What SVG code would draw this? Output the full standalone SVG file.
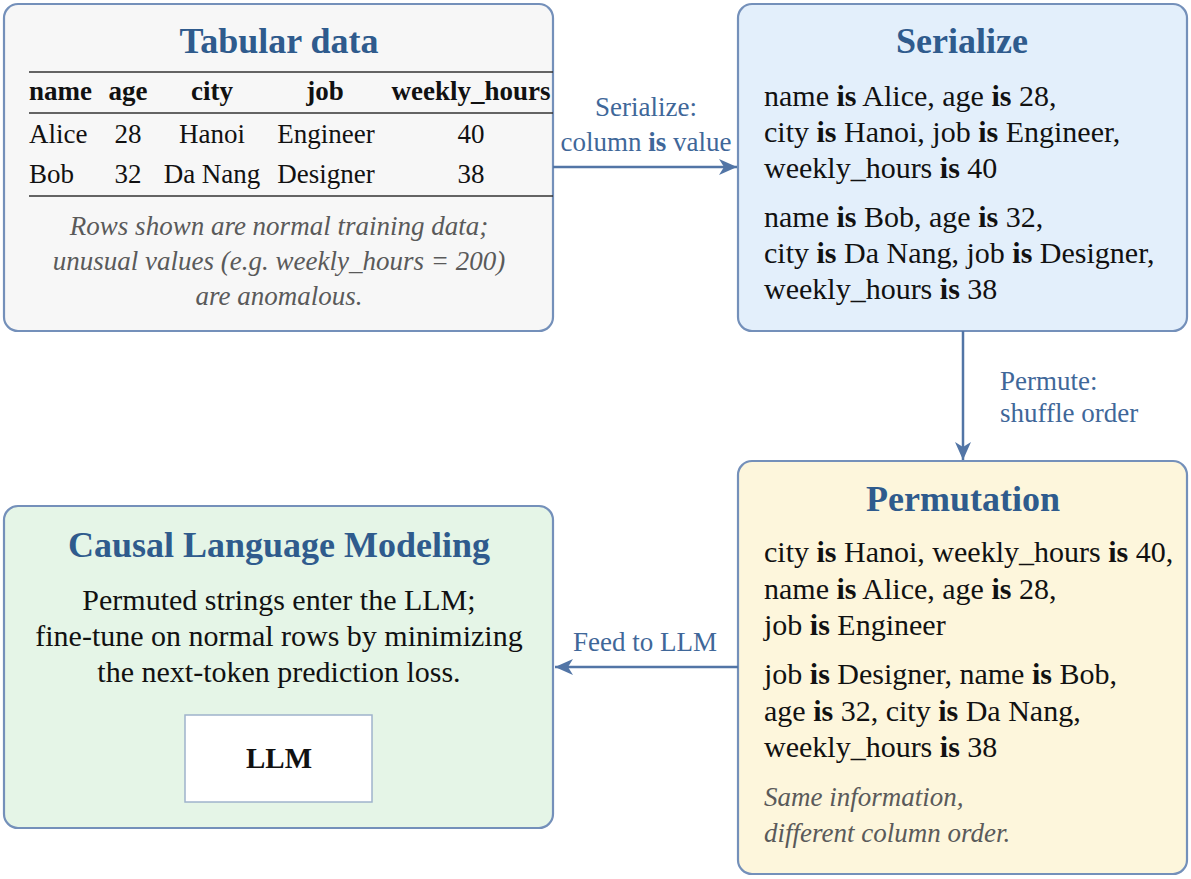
<svg xmlns="http://www.w3.org/2000/svg" width="1191" height="879" viewBox="0 0 1191 879">
<style>
.box{stroke:#7490ba;stroke-width:2.2}
.title{font-family:"Liberation Serif","Times New Roman",serif;font-weight:bold;font-size:36px;fill:#2f5b8d;text-anchor:middle}
.body{font-family:"Liberation Serif","Times New Roman",serif;font-size:30px;fill:#111}
.tbl{font-family:"Liberation Serif","Times New Roman",serif;font-size:27px;fill:#111}
.th{font-weight:bold}
.note{font-family:"Liberation Serif","Times New Roman",serif;font-style:italic;font-size:27px;fill:#5a5a5a}
.lbl{font-family:"Liberation Serif","Times New Roman",serif;font-size:27px;fill:#3f6799}
.b{font-weight:bold}
.rule{stroke:#333;stroke-width:1.4}
.conn{stroke:#5275a6;stroke-width:2.5;fill:none}
</style>
<defs>
<marker id="arr" markerUnits="userSpaceOnUse" markerWidth="20" markerHeight="18" refX="18" refY="9" orient="auto">
<path d="M0,1 L18,9 L0,17 L5,9 z" fill="#5275a6"/>
</marker>
</defs>

<g id="tabular">
<rect class="box" x="4" y="4" width="549" height="327" rx="14" fill="#f7f7f7"/>
<text class="title" x="279" y="53">Tabular data</text>
<line class="rule" x1="29" y1="72" x2="553" y2="72"/>
<line class="rule" x1="29" y1="113" x2="553" y2="113"/>
<line class="rule" x1="29" y1="196" x2="553" y2="196"/>
<g class="tbl th">
<text x="29" y="100">name</text>
<text x="128" y="100" text-anchor="middle">age</text>
<text x="212" y="100" text-anchor="middle">city</text>
<text x="325" y="100" text-anchor="middle">job</text>
<text x="471" y="100" text-anchor="middle">weekly_hours</text>
</g>
<g class="tbl">
<text x="29" y="143">Alice</text>
<text x="128" y="143" text-anchor="middle">28</text>
<text x="212" y="143" text-anchor="middle">Hanoi</text>
<text x="326" y="143" text-anchor="middle">Engineer</text>
<text x="471" y="143" text-anchor="middle">40</text>
<text x="29" y="183">Bob</text>
<text x="128" y="183" text-anchor="middle">32</text>
<text x="212" y="183" text-anchor="middle">Da Nang</text>
<text x="326" y="183" text-anchor="middle">Designer</text>
<text x="471" y="183" text-anchor="middle">38</text>
</g>
<g class="note" text-anchor="middle">
<text x="279" y="235">Rows shown are normal training data;</text>
<text x="279" y="270">unusual values (e.g. weekly_hours = 200)</text>
<text x="279" y="305">are anomalous.</text>
</g>
</g>

<g id="serialize">
<rect class="box" x="738" y="4" width="449" height="327" rx="14" fill="#e3effb"/>
<text class="title" x="962" y="53">Serialize</text>
<g class="body">
<text x="764" y="106">name <tspan class="b">is</tspan> Alice, age <tspan class="b">is</tspan> 28,</text>
<text x="764" y="142">city <tspan class="b">is</tspan> Hanoi, job <tspan class="b">is</tspan> Engineer,</text>
<text x="764" y="178">weekly_hours <tspan class="b">is</tspan> 40</text>
<text x="764" y="227">name <tspan class="b">is</tspan> Bob, age <tspan class="b">is</tspan> 32,</text>
<text x="764" y="263">city <tspan class="b">is</tspan> Da Nang, job <tspan class="b">is</tspan> Designer,</text>
<text x="764" y="299">weekly_hours <tspan class="b">is</tspan> 38</text>
</g>
</g>

<g id="permutation">
<rect class="box" x="738" y="461" width="449" height="413" rx="14" fill="#fdf6dc"/>
<text class="title" x="963" y="511">Permutation</text>
<g class="body">
<text x="764" y="562">city <tspan class="b">is</tspan> Hanoi, weekly_hours <tspan class="b">is</tspan> 40,</text>
<text x="764" y="599">name <tspan class="b">is</tspan> Alice, age <tspan class="b">is</tspan> 28,</text>
<text x="764" y="635">job <tspan class="b">is</tspan> Engineer</text>
<text x="764" y="684">job <tspan class="b">is</tspan> Designer, name <tspan class="b">is</tspan> Bob,</text>
<text x="764" y="721">age <tspan class="b">is</tspan> 32, city <tspan class="b">is</tspan> Da Nang,</text>
<text x="764" y="757">weekly_hours <tspan class="b">is</tspan> 38</text>
</g>
<g class="note">
<text x="764" y="806">Same information,</text>
<text x="764" y="842">different column order.</text>
</g>
</g>

<g id="clm">
<rect class="box" x="4" y="506" width="549" height="322" rx="14" fill="#e5f5e7"/>
<text class="title" x="279" y="557">Causal Language Modeling</text>
<g class="body" text-anchor="middle">
<text x="279" y="610">Permuted strings enter the LLM;</text>
<text x="279" y="646">fine-tune on normal rows by minimizing</text>
<text x="279" y="682">the next-token prediction loss.</text>
</g>
<g id="llm">
<rect x="185" y="715" width="187" height="87" fill="#ffffff" stroke="#9fb3cc" stroke-width="1.5"/>
<text x="279" y="768" font-family="Liberation Serif, Times New Roman, serif" font-weight="bold" font-size="29" fill="#111" text-anchor="middle">LLM</text>
</g>
</g>

<g id="connectors">
<line class="conn" x1="553" y1="167" x2="737" y2="167" marker-end="url(#arr)"/>
<line class="conn" x1="963" y1="331" x2="963" y2="460" marker-end="url(#arr)"/>
<line class="conn" x1="738" y1="667" x2="555" y2="667" marker-end="url(#arr)"/>
<g class="lbl" text-anchor="middle">
<text x="646" y="116">Serialize:</text>
<text x="646" y="151">column <tspan class="b">is</tspan> value</text>
</g>
<g class="lbl">
<text x="1000" y="390">Permute:</text>
<text x="1000" y="422">shuffle order</text>
</g>
<text class="lbl" x="645" y="651" text-anchor="middle">Feed to LLM</text>
</g>
</svg>
